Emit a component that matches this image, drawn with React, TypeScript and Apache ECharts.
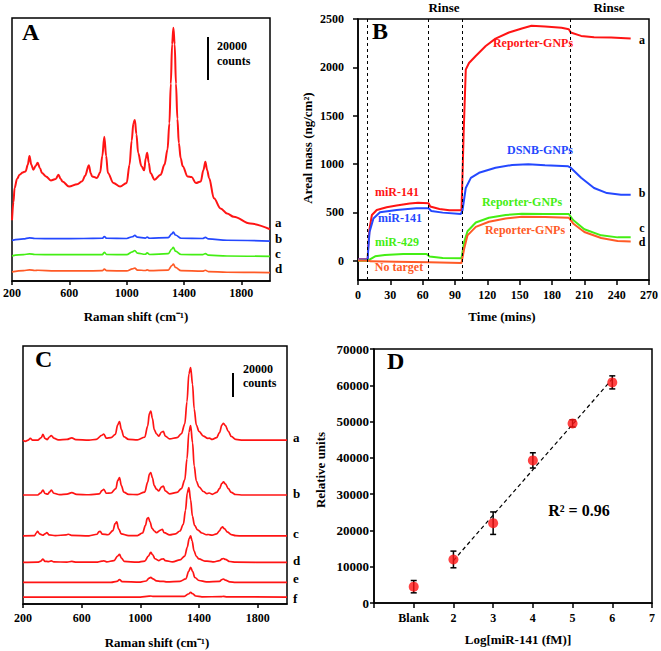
import React, { useEffect, useRef } from 'react';
import * as echarts from 'echarts';

// ---------- Panel A: Raman spectra (counts) ----------
const aTicks = [200, 600, 1000, 1400, 1800];
const specA_a: [number, number][] = [
  [200, 27700], [210, 36000], [218, 42400], [235, 46500], [253, 48500], [275, 49500], [295, 50000], [310, 53000], [322, 57000], [335, 53000], [349, 50800], [365, 52500], [379, 53900], [395, 51500], [409, 49300], [437, 47700], [471, 45900], [505, 46500], [524, 48500], [540, 46500], [552, 45400], [598, 43100], [655, 44200], [690, 45500], [710, 48000], [736, 52800], [750, 49000], [759, 47700], [793, 47000], [815, 49500], [830, 57000], [844, 65800], [857, 57000], [869, 49300], [908, 44700], [954, 43100], [1000, 44700], [1020, 53000], [1035, 64000], [1047, 72000], [1057, 73500], [1068, 67000], [1080, 58500], [1103, 52400], [1122, 50500], [1133, 56000], [1143, 58500], [1154, 54000], [1166, 49300], [1195, 46200], [1237, 48500], [1264, 53100], [1285, 60000], [1298, 72000], [1308, 90000], [1317, 108000], [1326, 115500], [1335, 108000], [1344, 90000], [1354, 74000], [1364, 63000], [1377, 56000], [1391, 52400], [1425, 47700], [1453, 47400], [1483, 44700], [1517, 45400], [1535, 50500], [1549, 54400], [1562, 50500], [1575, 47000], [1609, 37700], [1655, 33100], [1700, 30800], [1747, 29300], [1862, 26200], [2000, 23600],
];
const specA_b: [number, number][] = [
  [200, 18500], [280, 19200], [322, 19700], [360, 19400], [500, 19300], [700, 19400], [830, 19500], [844, 20300], [860, 19500], [1000, 19400], [1040, 20200], [1057, 20800], [1075, 20000], [1130, 19600], [1143, 20000], [1160, 19500], [1290, 19800], [1315, 21500], [1326, 22300], [1340, 21000], [1380, 19500], [1530, 19400], [1549, 19900], [1570, 19200], [1700, 18600], [2000, 18200],
];
const specA_c: [number, number][] = [
  [200, 11500], [280, 12000], [322, 12400], [360, 12100], [500, 12000], [700, 12000], [830, 12000], [844, 13100], [860, 12100], [1000, 12000], [1040, 13300], [1057, 13900], [1075, 12700], [1130, 12200], [1143, 12800], [1160, 12100], [1290, 12500], [1315, 14600], [1326, 15400], [1340, 13600], [1380, 12100], [1530, 12000], [1549, 12500], [1570, 11800], [1700, 11400], [2000, 11200],
];
const specA_d: [number, number][] = [
  [200, 4150], [280, 4700], [322, 5100], [360, 4800], [380, 4900], [500, 4600], [700, 4600], [830, 4700], [844, 5400], [860, 4700], [1000, 4600], [1040, 5500], [1057, 5850], [1075, 5000], [1130, 4800], [1143, 5100], [1160, 4700], [1290, 5000], [1315, 7000], [1326, 7700], [1340, 6200], [1380, 4700], [1530, 4500], [1549, 4900], [1570, 4300], [1700, 4000], [2000, 3850],
];

// ---------- Panel B: areal mass vs time ----------
const bTicksY = [0, 500, 1000, 1500, 2000, 2500];
const eventTimes = [8.5, 65.5, 96.5, 196.5];
const massA: [number, number][] = [
  [0, 15], [9, 15], [9.5, 150], [10.7, 332], [12.9, 472], [17.4, 524], [26.6, 552], [35.8, 570], [48, 591], [55.7, 598], [65.5, 594], [67, 560], [75.6, 535], [84.8, 521], [96, 521], [97, 900], [98, 1311], [100, 1976], [103, 2045], [109, 2115], [118.5, 2220], [127.6, 2297], [140, 2360], [152, 2402], [161, 2430], [173.5, 2423], [188.9, 2409], [195.6, 2395], [197.4, 2360], [207, 2325], [219, 2311], [234.8, 2308], [253, 2297],
];
const massB: [number, number][] = [
  [0, 12], [9, 12], [9.5, 120], [10.7, 297], [14.3, 437], [20.4, 500], [35.8, 524], [54.2, 542], [65.5, 542], [68, 514], [78.6, 497], [95.5, 483], [97, 524], [100, 752], [104.7, 857], [112.3, 909], [127.6, 962], [143, 990], [158, 997], [173.5, 986], [195, 976], [197.4, 962], [207, 857], [219, 752], [231, 699], [244, 682], [253, 682],
];
const massC: [number, number][] = [
  [0, 0], [10, 0], [11.5, 17], [15.9, 45], [24.9, 59], [42, 70], [63.6, 70], [66.4, 42], [78.6, 28], [96, 24], [98.5, 192], [101.6, 304], [109.3, 395], [121.5, 444], [137, 472], [152, 486], [173.5, 483], [195.6, 483], [199.6, 420], [210, 325], [225.6, 262], [240.9, 241], [253, 241],
];
const massD: [number, number][] = [
  [0, 2], [10, 0], [11.5, -7], [35, -10], [66, -17], [96, -24], [98.5, 122], [101.6, 262], [109.3, 350], [121.5, 402], [137, 437], [152, 455], [173.5, 451], [195.6, 444], [199.6, 385], [210, 297], [225.6, 234], [240.9, 203], [253, 199],
];

// ---------- Panel C: stacked Raman spectra (intensity above own baseline) ----------
const cTicks = [200, 600, 1000, 1400, 1800];
const cOffsets = [141000, 93800, 58600, 35750, 18600, 6000];
const specC_a: [number, number][] = [
  [200, 0], [215, -1000], [235, 0], [250, 1500], [265, 0], [300, 0], [325, 2200], [336, 4900], [350, 1500], [365, 500], [380, 2700], [393, 4000], [410, 1800], [440, 300], [500, 600], [533, 2000], [560, 400], [650, 0], [700, 700], [738, 4200], [751, 5200], [768, 1800], [800, 2200], [830, 5000], [845, 13000], [858, 16000], [871, 9000], [887, 3000], [920, 700], [980, 300], [1030, 2500], [1050, 12000], [1062, 23000], [1071, 25000], [1082, 19000], [1095, 9000], [1110, 5500], [1125, 3500], [1145, 7000], [1157, 7500], [1170, 3500], [1200, 1000], [1250, 2200], [1280, 5500], [1303, 14000], [1318, 33000], [1331, 57000], [1343, 62500], [1356, 48000], [1367, 27000], [1382, 13000], [1400, 7500], [1430, 3500], [1460, 1500], [1470, 1800], [1490, 600], [1520, 2200], [1540, 6500], [1556, 13000], [1567, 14500], [1580, 12500], [1600, 7500], [1620, 3200], [1650, 600], [1700, 0], [2000, 0],
];
const specC_b: [number, number][] = [
  [200, 0], [300, 0], [322, 1800], [336, 4300], [350, 1300], [370, 700], [380, 2400], [393, 4300], [410, 1500], [450, 300], [500, 800], [533, 2000], [565, 500], [650, 200], [720, 900], [738, 3700], [751, 4900], [768, 1500], [800, 1700], [833, 5500], [846, 12500], [858, 14900], [871, 8000], [887, 2500], [920, 500], [980, 300], [1030, 2500], [1050, 11000], [1062, 18000], [1071, 19200], [1082, 15000], [1095, 8000], [1110, 5000], [1125, 3500], [1145, 7000], [1157, 7700], [1170, 3500], [1200, 1000], [1250, 2200], [1280, 5500], [1303, 13000], [1318, 31000], [1331, 54000], [1343, 59800], [1356, 45000], [1367, 25000], [1382, 12000], [1400, 7000], [1430, 3000], [1455, 1200], [1470, 1700], [1490, 600], [1520, 2200], [1540, 5500], [1556, 10000], [1567, 11200], [1580, 9500], [1600, 5500], [1620, 2200], [1650, 400], [1700, 0], [2000, 0],
];
const specC_c: [number, number][] = [
  [200, 0], [280, 300], [290, 2500], [300, 4000], [312, 1800], [335, 600], [350, 1700], [363, 2900], [378, 900], [420, 200], [495, 900], [510, 1400], [530, 500], [650, 100], [705, 1400], [718, 3600], [726, 4000], [740, 1500], [780, 1000], [813, 4500], [828, 10500], [839, 12000], [852, 6000], [870, 1800], [920, 300], [980, 300], [1015, 2500], [1035, 9000], [1047, 15000], [1055, 15700], [1066, 12000], [1080, 6500], [1095, 4200], [1110, 2800], [1138, 5000], [1150, 5700], [1162, 2800], [1200, 800], [1240, 1700], [1270, 4200], [1293, 10000], [1308, 22000], [1320, 37000], [1331, 41500], [1343, 31000], [1355, 17000], [1370, 9000], [1390, 5200], [1420, 2500], [1450, 1000], [1462, 1200], [1490, 600], [1520, 1700], [1540, 4300], [1552, 7000], [1560, 7700], [1572, 6300], [1595, 3200], [1620, 1100], [1650, 200], [1700, 0], [2000, 0],
];
const specC_d: [number, number][] = [
  [200, 0], [300, 200], [322, 1200], [336, 2900], [350, 1000], [375, 700], [393, 1400], [410, 500], [500, 300], [533, 900], [565, 200], [700, 200], [738, 1100], [751, 1400], [770, 500], [820, 1500], [845, 5500], [858, 6900], [871, 3800], [890, 900], [980, 200], [1030, 1200], [1055, 5500], [1071, 8600], [1083, 6800], [1100, 3200], [1125, 1600], [1145, 2800], [1157, 3100], [1170, 1600], [1220, 500], [1270, 2200], [1303, 5500], [1320, 13000], [1333, 20500], [1343, 22900], [1353, 18500], [1366, 10000], [1382, 5200], [1400, 3000], [1440, 1200], [1470, 1000], [1500, 500], [1540, 1600], [1557, 3000], [1567, 3400], [1580, 2600], [1610, 800], [1650, 200], [2000, 0],
];
const specC_e: [number, number][] = [
  [200, 0], [800, 0], [840, 900], [858, 2300], [876, 700], [1000, 300], [1040, 1200], [1060, 3600], [1071, 4300], [1086, 3000], [1110, 1300], [1140, 800], [1157, 900], [1180, 500], [1270, 900], [1310, 3000], [1330, 9500], [1343, 12900], [1356, 9500], [1372, 4200], [1400, 1600], [1450, 500], [1540, 900], [1557, 2500], [1567, 2900], [1580, 1900], [1610, 500], [1650, 0], [2000, 0],
];
const specC_f: [number, number][] = [
  [200, 0], [1000, 0], [1060, 700], [1071, 900], [1090, 500], [1300, 500], [1328, 2600], [1343, 4000], [1357, 2800], [1377, 900], [1420, 200], [1550, 300], [1567, 600], [1590, 200], [2000, 0],
];

// ---------- Panel D: calibration ----------
const dX = [1, 2, 3, 4, 5, 6];
const dMean = [4500, 12000, 22000, 39300, 49500, 60800];
const dErr = [1700, 2300, 3100, 2100, 1000, 1800];
const dTickLabels = ['', 'Blank', '2', '3', '4', '5', '6', '7'];

const RED = '#ff1414';
const BLUE = '#2448ff';
const GREEN = '#44ee14';
const ORANGE = '#ff5a26';
const FF = '"Liberation Serif", "Times New Roman", serif';

function fitLine(xs: number[], ys: number[]) {
  const n = xs.length;
  const mx = xs.reduce((s, v) => s + v, 0) / n;
  const my = ys.reduce((s, v) => s + v, 0) / n;
  let sxy = 0, sxx = 0;
  for (let i = 0; i < n; i++) { sxy += (xs[i] - mx) * (ys[i] - my); sxx += (xs[i] - mx) ** 2; }
  const k = sxy / sxx;
  return (x: number) => my + k * (x - mx);
}

function txt(x: number, y: number, s: string, size: number, color = '#000', align = 'center', rot = 0) {
  return {
    type: 'text', x, y, rotation: rot, z: 100,
    style: { text: s, fill: color, font: `bold ${size}px ${FF}`, textAlign: align, textVerticalAlign: 'middle' },
  };
}

export default function App() {
  const ref = useRef<HTMLDivElement>(null);
  useEffect(() => {
    const chart = echarts.init(ref.current!, null, { renderer: 'svg' });
    const gridStyle = { show: true, borderColor: '#000', borderWidth: 1.5, backgroundColor: 'transparent' };
    const axLine = { show: true, onZero: false, lineStyle: { color: '#000', width: 1.5 } };
    const plain = (v: number) => String(v);
    const lab = (size: number, margin: number, extra: any = {}) => ({ color: '#000', fontFamily: FF, fontWeight: 'bold', fontSize: size, margin, formatter: plain, ...extra });
    const tick = (extra: any = {}) => ({ show: true, inside: false, length: 4, lineStyle: { color: '#000', width: 1.5 }, ...extra });
    const line = (grid: number, data: any, color: string, width = 1.6, smooth: any = 0.35) => ({
      type: 'line', xAxisIndex: grid, yAxisIndex: grid, data, showSymbol: false, symbol: 'none',
      smooth, smoothMonotone: 'x', lineStyle: { color, width }, itemStyle: { color }, silent: true,
    });
    const fit = fitLine(dX.slice(1), dMean.slice(1));
    const cSpecs = [specC_a, specC_b, specC_c, specC_d, specC_e, specC_f];

    const option: any = {
      animation: false,
      backgroundColor: '#fff',
      grid: [
        { left: 9, top: 18, width: 261, height: 263, ...gridStyle },
        { left: 358, top: 19, width: 294, height: 261, ...gridStyle },
        { left: 23, top: 346, width: 264, height: 258, ...gridStyle },
        { left: 374, top: 349, width: 278, height: 254, ...gridStyle },
      ],
      xAxis: [
        { gridIndex: 0, type: 'value', min: 200, max: 2000, axisLine: axLine, axisTick: tick({ customValues: aTicks }), axisLabel: lab(12, 6, { customValues: aTicks }), splitLine: { show: false } },
        { gridIndex: 1, type: 'value', min: 0, max: 270, interval: 30, axisLine: axLine, axisTick: tick({ length: 5 }), axisLabel: lab(12, 9), splitLine: { show: false } },
        { gridIndex: 2, type: 'value', min: 200, max: 2000, axisLine: axLine, axisTick: tick({ customValues: cTicks }), axisLabel: lab(12, 8, { customValues: cTicks }), splitLine: { show: false } },
        { gridIndex: 3, type: 'value', min: 0, max: 7, interval: 1, axisLine: axLine, axisTick: tick({ length: 5 }), axisLabel: lab(12, 9, { formatter: (v: number) => dTickLabels[Math.round(v)] ?? '' }), splitLine: { show: false } },
      ],
      yAxis: [
        { gridIndex: 0, type: 'value', min: 0, max: 120000, show: false },
        { gridIndex: 1, type: 'value', min: -200, max: 2500, axisLine: axLine, axisTick: tick({ length: 5, customValues: bTicksY }), axisLabel: lab(12, 14, { customValues: bTicksY }), splitLine: { show: false } },
        { gridIndex: 2, type: 'value', min: 0, max: 222000, show: false },
        { gridIndex: 3, type: 'value', min: 0, max: 70000, interval: 10000, axisLine: axLine, axisTick: tick({ length: 4 }), axisLabel: lab(13, 5), splitLine: { show: false } },
      ],
      series: [
        line(0, specA_a, RED, 2),
        line(0, specA_b, BLUE, 1.7),
        line(0, specA_c, GREEN, 1.7),
        line(0, specA_d, ORANGE, 1.7),
        {
          ...line(1, massA, RED, 2, false),
          markLine: {
            symbol: 'none', silent: true, label: { show: false },
            lineStyle: { type: [3, 3], color: '#000', width: 1 },
            data: eventTimes.map((t) => ({ xAxis: t })),
          },
        },
        line(1, massB, BLUE, 2, false),
        line(1, massC, GREEN, 2, false),
        line(1, massD, ORANGE, 2, false),
        ...cSpecs.map((s, i) => line(2, s.map(([x, y]) => [x, y + cOffsets[i]]), RED, 1.7)),
        {
          type: 'line', xAxisIndex: 3, yAxisIndex: 3, data: [[2, fit(2)], [6, fit(6)]],
          symbol: 'none', lineStyle: { color: '#000', width: 1.2, type: [4, 3] }, silent: true,
        },
        {
          type: 'custom', xAxisIndex: 3, yAxisIndex: 3, silent: true, z: 4,
          data: dX.map((x, i) => [x, dMean[i], dErr[i]]),
          encode: { x: 0, y: 1 },
          renderItem: (params: any, api: any) => {
            const x = api.value(0), y = api.value(1), e = api.value(2);
            const t = api.coord([x, y + e]);
            const b = api.coord([x, y - e]);
            const w = 3;
            const st = { stroke: '#000', lineWidth: 1.5 };
            return {
              type: 'group',
              children: [
                { type: 'line', shape: { x1: t[0], y1: t[1], x2: b[0], y2: b[1] }, style: st },
                { type: 'line', shape: { x1: t[0] - w, y1: t[1], x2: t[0] + w, y2: t[1] }, style: st },
                { type: 'line', shape: { x1: b[0] - w, y1: b[1], x2: b[0] + w, y2: b[1] }, style: st },
              ],
            };
          },
        },
        {
          type: 'scatter', xAxisIndex: 3, yAxisIndex: 3, z: 5, silent: true,
          data: dX.map((x, i) => [x, dMean[i]]), symbolSize: 10, itemStyle: { color: RED },
        },
      ],
      graphic: [
        txt(22, 32, 'A', 24, '#000', 'left'),
        txt(372, 31, 'B', 24, '#000', 'left'),
        txt(35, 359, 'C', 24, '#000', 'left'),
        txt(387, 361, 'D', 24, '#000', 'left'),
        txt(444, 7, 'Rinse', 13),
        txt(609, 7, 'Rinse', 13),
        // A scale bar & labels
        { type: 'line', shape: { x1: 208, y1: 37, x2: 208, y2: 80 }, style: { stroke: '#000', lineWidth: 2 }, z: 100 },
        txt(217, 46, '20000', 12, '#000', 'left'),
        txt(217, 61, 'counts', 12, '#000', 'left'),
        txt(275, 222, 'a', 13, '#000', 'left'),
        txt(275, 238, 'b', 13, '#000', 'left'),
        txt(275, 253, 'c', 13, '#000', 'left'),
        txt(275, 268, 'd', 13, '#000', 'left'),
        txt(136, 316, 'Raman shift (cm⁻¹)', 13),
        // B annotations
        txt(533, 43, 'Reporter-GNPs', 12, RED),
        txt(540, 150, 'DSNB-GNPs', 12, BLUE),
        txt(397, 192, 'miR-141', 12, RED),
        txt(400, 218, 'miR-141', 12, BLUE),
        txt(397, 242, 'miR-429', 12, GREEN),
        txt(399, 267, 'No target', 12, ORANGE),
        txt(522, 202, 'Reporter-GNPs', 12, GREEN),
        txt(525, 230, 'Reporter-GNPs', 12, ORANGE),
        txt(642, 40, 'a', 12),
        txt(642, 193, 'b', 12),
        txt(642, 228, 'c', 12),
        txt(642, 242, 'd', 12),
        txt(502, 316, 'Time (mins)', 13),
        txt(307, 148, 'Areal mass (ng/cm²)', 13, '#000', 'center', Math.PI / 2),
        // C
        { type: 'line', shape: { x1: 233, y1: 373, x2: 233, y2: 397 }, style: { stroke: '#000', lineWidth: 2 }, z: 100 },
        txt(243, 369, '20000', 12, '#000', 'left'),
        txt(243, 383, 'counts', 12, '#000', 'left'),
        txt(293, 437, 'a', 13, '#000', 'left'),
        txt(293, 493, 'b', 13, '#000', 'left'),
        txt(293, 533, 'c', 13, '#000', 'left'),
        txt(293, 560, 'd', 13, '#000', 'left'),
        txt(293, 578, 'e', 13, '#000', 'left'),
        txt(293, 598, 'f', 13, '#000', 'left'),
        txt(157, 642, 'Raman shift (cm⁻¹)', 13),
        // D
        txt(518, 639, 'Log[miR-141 (fM)]', 13),
        txt(320, 470, 'Relative units', 13, '#000', 'center', Math.PI / 2),
        txt(579, 510, 'R² = 0.96', 16),
      ],
    };
    chart.setOption(option);
    return () => chart.dispose();
  }, []);
  return <div ref={ref} style={{ position: 'absolute', left: 0, top: 0, width: 661, height: 651, background: '#fff' }} />;
}
